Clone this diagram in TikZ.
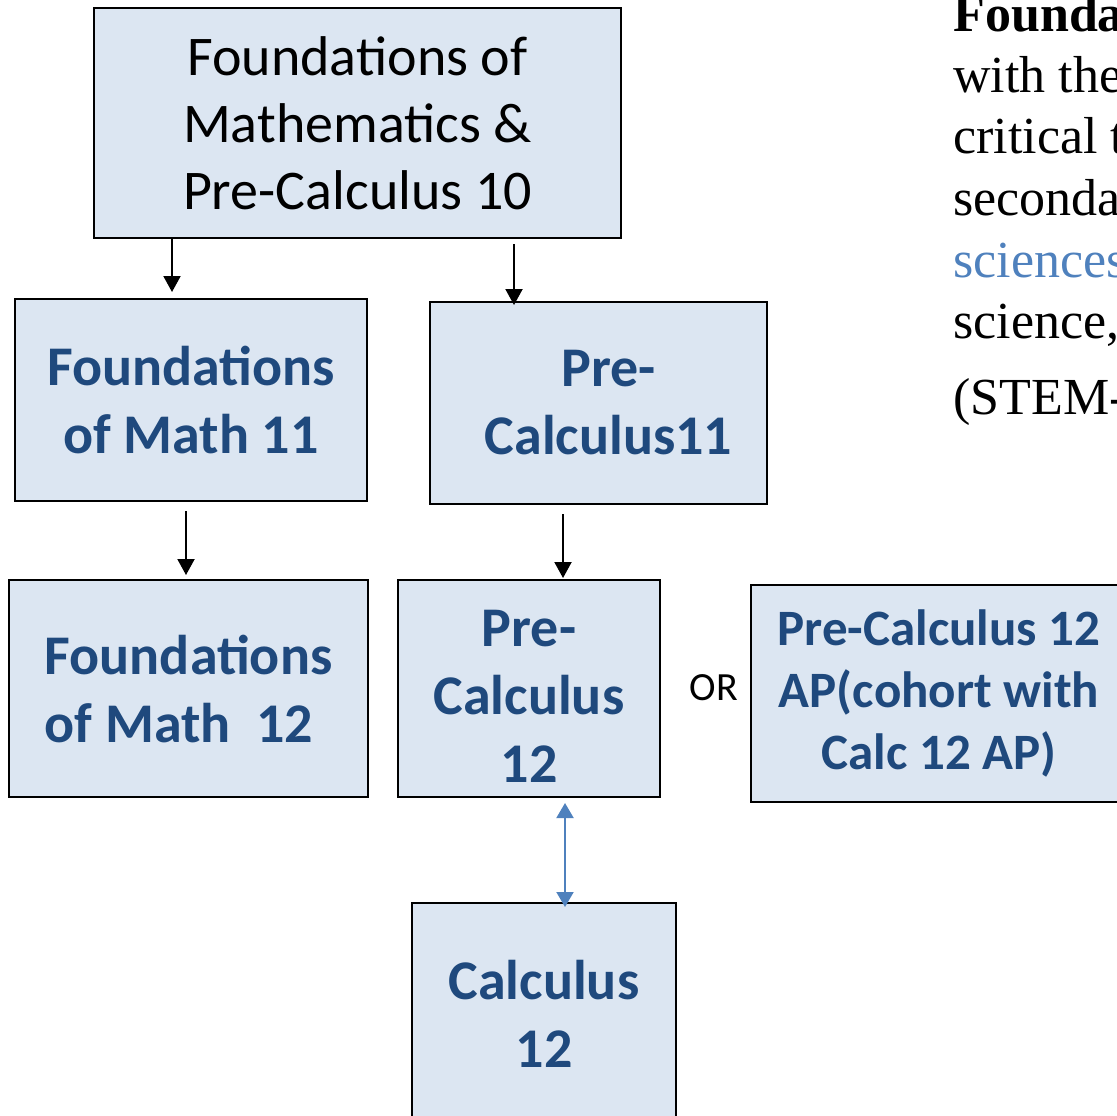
\documentclass[tikz,border=0pt]{standalone}
\usepackage{fontspec}
\setmainfont{Carlito}
\newfontfamily\timesfont{Liberation Serif}
\usetikzlibrary{calc,arrows.meta}
\definecolor{boxfill}{HTML}{DCE6F2}
\definecolor{boxtext}{HTML}{1F497D}
\definecolor{linkblue}{HTML}{4F81BD}

\begin{document}
\begin{tikzpicture}[x=0.5pt,y=-0.5pt,
  course/.style={draw=black,line width=1pt,fill=boxfill,text=boxtext,align=center,inner sep=0pt,
    font=\fontsize{28}{34}\selectfont\bfseries},
  arr/.style={line width=1pt,-{Triangle[length=8pt,width=8.5pt]}},
  dblarr/.style={draw=linkblue,line width=1pt,{Triangle[length=7.5pt,width=8.5pt]}-{Triangle[length=7.5pt,width=8.5pt]}},
  para/.style={anchor=base west,inner sep=0pt,font=\timesfont\fontsize{26}{30}\selectfont}]
\useasboundingbox (0,0) rectangle (1117,1115);
\clip (0,0) rectangle (1117,1115);

\node[course,minimum width=263.5pt,minimum height=115pt,text=black,font=\fontsize{28}{33.5}\selectfont]
  (top) at (357.5,123) {Foundations of\\Mathematics \&\\Pre-Calculus 10};
\node[course,minimum width=176pt,minimum height=101pt] (f11) at (191,400) {Foundations\\of Math 11};
\node[course,minimum width=168.5pt,minimum height=101pt] (pc11) at (598.5,403)
  {\hspace*{10pt}Pre-\\\hspace*{10pt}Calculus11};
\node[course,minimum width=179.5pt,minimum height=108.5pt,align=left] (f12) at (188.5,688.5) {Foundations\\of Math~~12};
\node[course,minimum width=131pt,minimum height=108.5pt] (pc12) at (529,688.5) {\rule{0pt}{26pt}Pre-\\Calculus\\12};
\node[course,minimum width=188pt,minimum height=108.5pt,font=\fontsize{25.5}{31}\selectfont\bfseries]
  (ap) at (939,693.5) {Pre-Calculus 12\\AP(cohort with\\Calc 12 AP)};
\node[course,minimum width=132pt,minimum height=111pt] (calc) at (544,1014) {Calculus\\12};
\node[font=\fontsize{20}{24}\selectfont] (or) at (714,688) {OR};

% arrows
\coordinate (c1) at (172,0);
\coordinate (c2) at (514,0);
\coordinate (c3) at (186,0);
\coordinate (c4) at (563,0);
\coordinate (c5) at (565,0);
\draw[arr] (top.south -| c1) -- ($(f11.north -| c1)+(0,-6)$);
\draw[arr] ($(top.south -| c2)+(0,5)$) -- ($(pc11.north -| c2)+(0,4)$);
\draw[arr] ($(f11.south -| c3)+(0,9)$) -- ($(f12.north -| c3)+(0,-4)$);
\draw[arr] ($(pc11.south -| c4)+(0,9)$) -- ($(pc12.north -| c4)+(0,-1)$);
\draw[dblarr] ($(pc12.south -| c5)+(0,5)$) -- ($(calc.north -| c5)+(0,5)$);

% text on the right
\node[para] (p1) at (953,31) {\bfseries Founda};
\node[para] (p2) at (953,92) {with the};
\node[para] (p3) at (953,153) {critical t};
\node[para] (p4) at (953,215) {seconda};
\node[para,text=linkblue] (p5) at (953,277) {sciences};
\node[para] (p6) at (953,338) {science,};
\node[para] (p7) at (953,414) {(STEM-};
\end{tikzpicture}
\end{document}
